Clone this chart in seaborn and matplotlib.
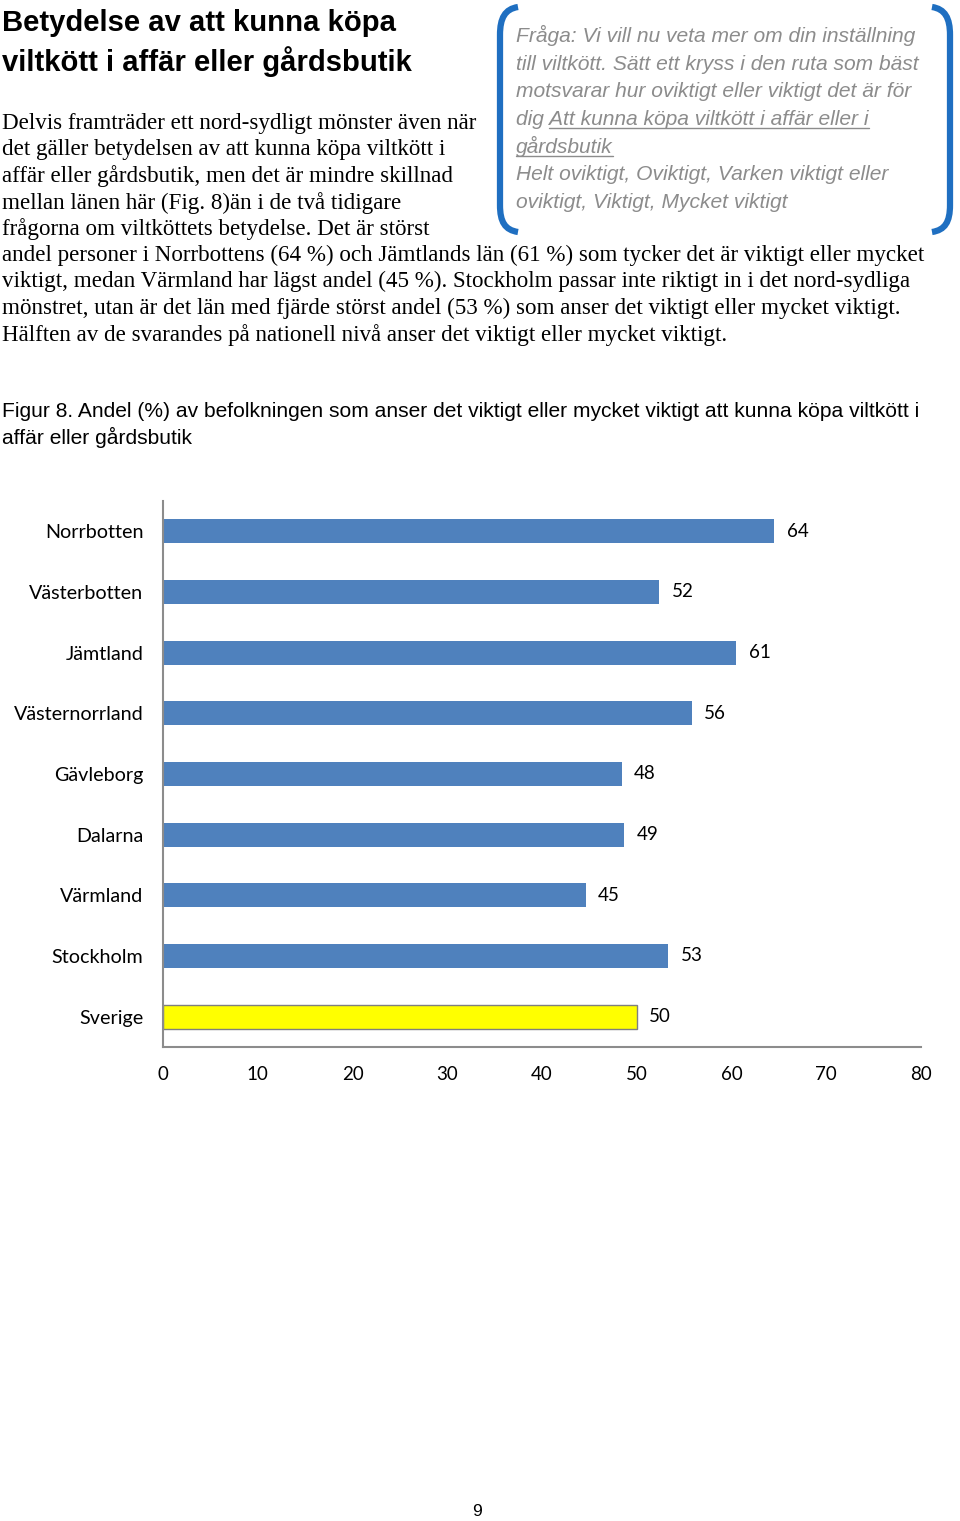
import matplotlib
matplotlib.use("Agg")
import matplotlib.pyplot as plt
import seaborn as sns
import pandas as pd
from matplotlib.path import Path
from matplotlib.patches import PathPatch

# ---------------- data ----------------
regions = ["Norrbotten", "Västerbotten", "Jämtland", "Västernorrland", "Gävleborg",
           "Dalarna", "Värmland", "Stockholm", "Sverige"]
# bar lengths (the printed labels are rounded)
shares = [64.5, 52.4, 60.5, 55.8, 48.4, 48.7, 44.6, 53.3, 50.0]
share_labels = ["64", "52", "61", "56", "48", "49", "45", "53", "50"]
bar_colors = ["#4F81BD"] * 8 + ["#FFFF00"]
x_ticks = [0, 10, 20, 30, 40, 50, 60, 70, 80]

title_lines = ["Betydelse av att kunna köpa", "viltkött i affär eller gårdsbutik"]
body_lines_a = [
    "Delvis framträder ett nord-sydligt mönster även när",
    "det gäller betydelsen av att kunna köpa viltkött i",
    "affär eller gårdsbutik, men det är mindre skillnad",
    "mellan länen här (Fig. 8)än i de två tidigare",
    "frågorna om viltköttets betydelse. Det är störst",
]
body_lines_b = [
    "andel personer i Norrbottens (64 %) och Jämtlands län (61 %) som tycker det är viktigt eller mycket",
    "viktigt, medan Värmland har lägst andel (45 %). Stockholm passar inte riktigt in i det nord-sydliga",
    "mönstret, utan är det län med fjärde störst andel (53 %) som anser det viktigt eller mycket viktigt.",
    "Hälften av de svarandes på nationell nivå anser det viktigt eller mycket viktigt.",
]
box_lines = [
    "Fråga: Vi vill nu veta mer om din inställning",
    "till viltkött. Sätt ett kryss i den ruta som bäst",
    "motsvarar hur oviktigt eller viktigt det är för",
    "dig Att kunna köpa viltkött i affär eller i",
    "gårdsbutik",
    "Helt oviktigt, Oviktigt, Varken viktigt eller",
    "oviktigt, Viktigt, Mycket viktigt",
]
underlined = {3: "Att kunna köpa viltkött i affär eller i", 4: "gårdsbutik"}
caption_lines = [
    "Figur 8. Andel (%) av befolkningen som anser det viktigt eller mycket viktigt att kunna köpa viltkött i",
    "affär eller gårdsbutik",
]
page_number = "9"

# ---------------- figure ----------------
sns.set_theme(style="white")
plt.rcParams["font.family"] = ["Lato", "DejaVu Sans"]

W, H = 960, 1521
fig = plt.figure(figsize=(W / 100, H / 100), dpi=100)
fig.patch.set_facecolor("white")

# overlay in pixel coordinates for page text
ov = fig.add_axes([0, 0, 1, 1])
ov.set_xlim(0, W)
ov.set_ylim(H, 0)
ov.axis("off")

sans = ["Liberation Sans", "DejaVu Sans"]
serif = ["Liberation Serif", "DejaVu Serif"]

for i, t in enumerate(title_lines):
    ov.text(2, 31 + 40 * i, t, family=sans, fontweight="bold", fontsize=21.1,
            color="black", va="baseline", ha="left")

for i, t in enumerate(body_lines_a):
    ov.text(2, 129 + 26.5 * i, t, family=serif, fontsize=16.6, color="black",
            va="baseline", ha="left")
for i, t in enumerate(body_lines_b):
    ov.text(2, 261 + 26.5 * i, t, family=serif, fontsize=16.6, color="black",
            va="baseline", ha="left")

box_color = "#8C8C8C"
box_fs = 15.1
box_texts = []
for i, t in enumerate(box_lines):
    tx = ov.text(516, 42 + 27.7 * i, t, family=sans, style="italic", fontsize=box_fs,
                 color=box_color, va="baseline", ha="left")
    box_texts.append((i, tx))

for i, t in enumerate(caption_lines):
    ov.text(2, 417 + 27 * i, t, family=sans, fontsize=15.1, color="black",
            va="baseline", ha="left")

ov.text(477, 1516, page_number, family=sans, fontsize=12.5, color="black",
        va="baseline", ha="center")

# brackets
bc = "#1F6FC1"
left = Path([(518, 7), (505, 9), (500, 18), (500, 35), (500, 205), (500, 222), (505, 230), (518, 232)],
            [Path.MOVETO, Path.CURVE4, Path.CURVE4, Path.CURVE4, Path.LINETO,
             Path.CURVE4, Path.CURVE4, Path.CURVE4])
right = Path([(932, 7), (945, 9), (950, 18), (950, 35), (950, 205), (950, 222), (945, 230), (932, 232)],
             [Path.MOVETO, Path.CURVE4, Path.CURVE4, Path.CURVE4, Path.LINETO,
              Path.CURVE4, Path.CURVE4, Path.CURVE4])
for p in (left, right):
    ov.add_patch(PathPatch(p, facecolor="none", edgecolor=bc, lw=4.5, capstyle="butt"))

# ---------------- chart ----------------
ax_l, ax_r, ax_t, ax_b = 163, 921, 501, 1047
ax = fig.add_axes([ax_l / W, 1 - ax_b / H, (ax_r - ax_l) / W, (ax_b - ax_t) / H])
df = pd.DataFrame({"region": regions, "share": shares})
sns.barplot(data=df, x="share", y="region", hue="region", palette=bar_colors,
            orient="h", width=0.4, legend=False, ax=ax, saturation=1)
for patch, c in zip(ax.patches, bar_colors):
    if c == "#FFFF00":
        patch.set_edgecolor("#7F7F7F")
        patch.set_linewidth(1.0)
    else:
        patch.set_edgecolor("none")
for cont, lab in zip(ax.containers, share_labels):
    ax.bar_label(cont, labels=[lab], padding=9, fontsize=13.5, color="black")

ax.set_xlim(0, 80)
ax.set_ylim(len(regions) - 0.5, -0.5)
ax.set_xticks(x_ticks)
ax.set_xticklabels([str(v) for v in x_ticks])
ax.set_xlabel("")
ax.set_ylabel("")
ax.tick_params(axis="x", length=0, pad=14, labelsize=13.5, colors="black")
ax.tick_params(axis="y", length=0, pad=14, labelsize=14.2, colors="black")
for s in ("top", "right"):
    ax.spines[s].set_visible(False)
for s in ("left", "bottom"):
    ax.spines[s].set_color("#8C8C8C")
    ax.spines[s].set_linewidth(1.5)
ax.set_facecolor("none")

# underlines for the quoted question
fig.canvas.draw()
renderer = fig.canvas.get_renderer()
inv = ov.transData.inverted()
for i, tx in box_texts:
    if i in underlined:
        full = tx.get_window_extent(renderer)
        tmp = ov.text(0, 0, underlined[i], family=sans, style="italic", fontsize=box_fs)
        w = tmp.get_window_extent(renderer).width
        tmp.remove()
        x1d = full.x1
        x0d = x1d - w
        (x0, _), (x1, _) = inv.transform([(x0d, 0), (x1d, 0)])
        y = 42 + 27.7 * i + 3
        ov.plot([x0, x1], [y, y], color=box_color, lw=1.0)

fig.savefig("out.png", dpi=100, facecolor="white")
